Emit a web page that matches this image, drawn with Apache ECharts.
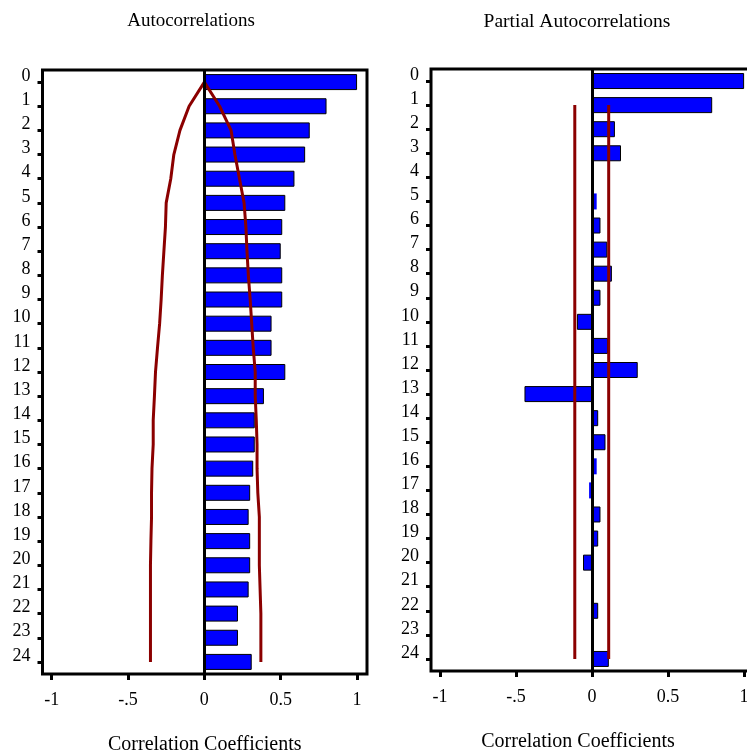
<!DOCTYPE html>
<html>
<head>
<meta charset="utf-8">
<script src="https://cdn.jsdelivr.net/npm/echarts@6/dist/echarts.min.js"></script>
<style>
html,body{margin:0;padding:0;background:#fff;}
#chart{width:747px;height:752px;}
</style>
</head>
<body>
<div id="chart"></div>
<script>
// ---- data ----
const lags = ['0','1','2','3','4','5','6','7','8','9','10','11','12','13','14','15','16','17','18','19','20','21','22','23','24'];
const acfValues = [1.00,0.80,0.69,0.66,0.59,0.53,0.51,0.50,0.51,0.51,0.44,0.44,0.53,0.39,0.33,0.33,0.32,0.30,0.29,0.30,0.30,0.29,0.22,0.22,0.31];
const acfUpper = [0,0.10,0.175,0.20,0.23,0.26,0.272,0.279,0.288,0.30,0.31,0.32,0.333,0.333,0.34,0.345,0.345,0.35,0.36,0.36,0.36,0.365,0.37,0.37,0.37];
const acfLower = [0,-0.10,-0.16,-0.20,-0.22,-0.25,-0.255,-0.265,-0.275,-0.283,-0.293,-0.307,-0.32,-0.327,-0.335,-0.335,-0.343,-0.346,-0.346,-0.35,-0.353,-0.353,-0.353,-0.353,-0.353];
const pacfValues = [1.00,0.79,0.15,0.19,0.01,0.03,0.055,0.10,0.13,0.055,-0.10,0.105,0.30,-0.445,0.04,0.088,0.03,-0.02,0.055,0.04,-0.06,0.005,0.04,0.005,0.11];
const pacfBandUpper = 0.109;
const pacfBandLower = -0.114;
const pacfBandLags = [1, 24];
const xTickValues = [-1,-0.5,0,0.5,1];
const xTickLabels = ['-1','-.5','0','0.5','1'];
const titles = ['Autocorrelations','Partial Autocorrelations'];
const axisName = 'Correlation Coefficients';

// ---- styles ----
const FONT = 'Liberation Serif';
const BAR_BLUE = '#0000FF';
const BAND_RED = '#8B0000';

function xAxisFor(gridIndex, namePad){
  return {
    type:'value', gridIndex:gridIndex, min:-1.06, max:1.065,
    splitLine:{show:false},
    axisLine:{show:false, onZero:false},
    axisTick:{show:true, length:6, customValues:xTickValues, lineStyle:{color:'#000', width:3}},
    axisLabel:{show:true, customValues:xTickValues, margin:17, color:'#000', fontFamily:FONT, fontSize:18,
      formatter:function(v){ const i = xTickValues.findIndex(t=>Math.abs(t-v)<1e-9); return i>=0 ? xTickLabels[i] : ''; }},
    name:axisName, nameLocation:'middle', nameGap:61,
    nameTextStyle:{color:'#000', fontFamily:FONT, fontSize:20, padding:namePad}
  };
}
function yAxisFor(gridIndex){
  return {
    type:'category', gridIndex:gridIndex, data:lags, inverse:true,
    axisLine:{show:false, onZero:false},
    axisTick:{show:true, alignWithLabel:true, length:5, lineStyle:{color:'#000', width:3}},
    axisLabel:{show:true, interval:0, margin:12, color:'#000', fontFamily:FONT, fontSize:18,
      verticalAlign:'bottom', lineHeight:12},
    splitLine:{show:false}
  };
}

const pacfData = pacfValues.map(v => Math.abs(v) < 0.035
  ? {value:v, itemStyle:{borderWidth:0}}
  : v);

const option = {
  backgroundColor:'#fff',
  animation:false,
  title:[
    {text:titles[0], left:186, top:7, textAlign:'center', textStyle:{fontFamily:FONT, fontSize:19, fontWeight:'normal', color:'#000'}},
    {text:titles[1], left:572, top:7, textAlign:'center', textStyle:{fontFamily:FONT, fontSize:19.5, fontWeight:'normal', color:'#000'}}
  ],
  grid:[
    {left:42.5, top:70, width:324.5, height:604, show:true, borderColor:'#000', borderWidth:3, backgroundColor:'transparent', outerBoundsMode:'none', containLabel:false},
    {left:431, top:69, width:323, height:602, show:true, borderColor:'#000', borderWidth:3, backgroundColor:'transparent', outerBoundsMode:'none', containLabel:false}
  ],
  xAxis:[xAxisFor(0,[0,0,0,0]), xAxisFor(1,[0,29,0,0])],
  yAxis:[yAxisFor(0), yAxisFor(1)],
  series:[
    {type:'bar', xAxisIndex:0, yAxisIndex:0, data:acfValues, barWidth:16,
      itemStyle:{color:BAR_BLUE, borderColor:'#000', borderWidth:1},
      markLine:{silent:true, symbol:'none', label:{show:false}, lineStyle:{color:'#000', width:3, type:'solid'}, data:[{xAxis:0}]}},
    {type:'line', xAxisIndex:0, yAxisIndex:0, data:acfUpper.map((v,i)=>[v,i]), showSymbol:false, symbol:'none',
      lineStyle:{color:BAND_RED, width:3}},
    {type:'line', xAxisIndex:0, yAxisIndex:0, data:acfLower.map((v,i)=>[v,i]), showSymbol:false, symbol:'none',
      lineStyle:{color:BAND_RED, width:3}},
    {type:'bar', xAxisIndex:1, yAxisIndex:1, data:pacfData, barWidth:16,
      itemStyle:{color:BAR_BLUE, borderColor:'#000', borderWidth:1},
      markLine:{silent:true, symbol:'none', label:{show:false}, lineStyle:{color:'#000', width:3, type:'solid'}, data:[{xAxis:0}]}},
    {type:'line', xAxisIndex:1, yAxisIndex:1, data:pacfBandLags.map(l=>[pacfBandUpper,l]), showSymbol:false, symbol:'none',
      lineStyle:{color:BAND_RED, width:3}},
    {type:'line', xAxisIndex:1, yAxisIndex:1, data:pacfBandLags.map(l=>[pacfBandLower,l]), showSymbol:false, symbol:'none',
      lineStyle:{color:BAND_RED, width:3}}
  ]
};
const chart = echarts.init(document.getElementById('chart'), null, {renderer:'canvas'});
chart.setOption(option);
</script>
</body>
</html>
